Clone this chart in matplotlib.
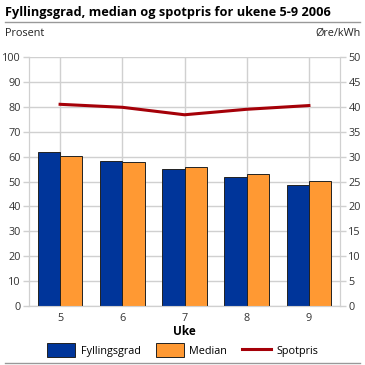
import numpy as np
import matplotlib.pyplot as plt
from matplotlib.patches import Patch
from matplotlib.lines import Line2D

plt.rcParams['font.family'] = ['Open Sans', 'DejaVu Sans']

weeks = ["5", "6", "7", "8", "9"]
fyllingsgrad = [62.0, 58.4, 55.1, 51.8, 48.5]
median = [60.4, 58.0, 55.7, 53.1, 50.3]
spotpris = [40.5, 39.9, 38.4, 39.5, 40.25]

bluec = "#00359A"
orangec = "#FF9933"
redc = "#A50008"
gridc = "#D0D0D0"

fig = plt.figure(figsize=(3.65, 3.65), dpi=100)
ax = fig.add_axes([29 / 365, 1 - 306 / 365, 311 / 365, 249 / 365])
ax2 = ax.twinx()

x = np.arange(len(weeks))
w = 0.36
ax.bar(x - w / 2, fyllingsgrad, w, color=bluec, edgecolor="#222222", linewidth=0.7, zorder=3)
ax.bar(x + w / 2, median, w, color=orangec, edgecolor="#222222", linewidth=0.7, zorder=3)
ax2.plot(x, spotpris, color=redc, linewidth=2.2, zorder=4)

ax.set_xlim(-0.5, 4.5)
ax.set_ylim(0, 100)
ax2.set_ylim(0, 50)
ax.set_yticks(np.arange(0, 101, 10))
ax2.set_yticks(np.arange(0, 51, 5))
ax.set_xticks(x)
ax.set_xticklabels(weeks)
ax.grid(True, color=gridc, linewidth=1, zorder=0)
ax.set_axisbelow(True)

for a in (ax, ax2):
    for s in a.spines.values():
        s.set_color(gridc)
    a.spines["top"].set_visible(False)
    a.tick_params(colors="#333333", labelsize=7.8, length=4, color=gridc, width=1, pad=2)
ax.tick_params(axis="x", length=0, pad=5)
ax.set_xlabel("Uke", fontsize=8.5, fontweight="bold", labelpad=1)

fig.text(0.013, 0.965, "Fyllingsgrad, median og spotpris for ukene 5-9 2006",
         fontsize=9.2, fontweight="bold", va="center", ha="left")
fig.add_artist(Line2D([0.013, 0.987], [0.94, 0.94], color="#999999", linewidth=1))
fig.add_artist(Line2D([0.013, 0.987], [0.006, 0.006], color="#999999", linewidth=1))
fig.text(0.013, 0.908, "Prosent", fontsize=7.8, va="center", ha="left", color="#222222")
fig.text(0.987, 0.908, "Øre/kWh", fontsize=7.8, va="center", ha="right", color="#222222")

handles = [Patch(facecolor=bluec, edgecolor="#222222", linewidth=0.7),
           Patch(facecolor=orangec, edgecolor="#222222", linewidth=0.7),
           Line2D([0], [0], color=redc, linewidth=2.2)]
fig.legend(handles, ["Fyllingsgrad", "Median", "Spotpris"], loc="center",
           bbox_to_anchor=(0.5, 0.04), ncol=3, frameon=False, fontsize=7.8,
           handlelength=2.6, handleheight=1.6, columnspacing=1.4, handletextpad=0.5)

plt.savefig("out.png", dpi=100)
